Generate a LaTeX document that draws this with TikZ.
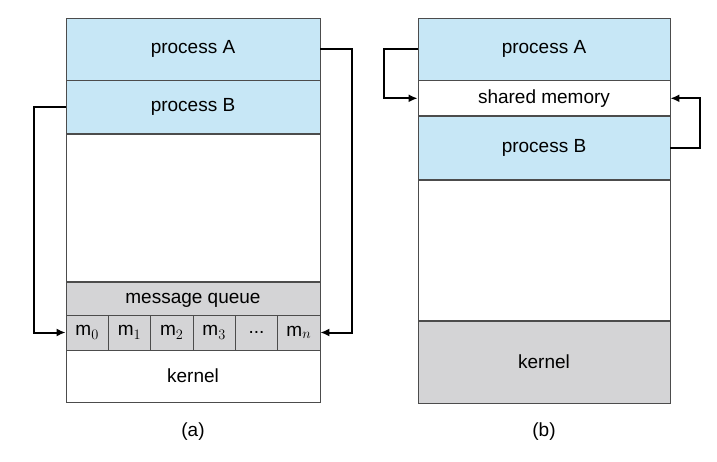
\documentclass[tikz,border=0pt]{standalone}
\usepackage{fontspec}
\setmainfont{Liberation Sans}
\usetikzlibrary{arrows.meta,positioning}
\definecolor{procblue}{RGB}{199,231,246}
\definecolor{kgray}{RGB}{212,212,214}
\tikzset{
  blk/.style={draw=black!70, line width=0.8pt, minimum width=254pt, inner sep=0pt, font=\fontsize{19}{22}\selectfont},
  link/.style={line width=2pt, -{Latex[length=9pt,width=8pt]}}
}
\begin{document}
\begin{tikzpicture}[x=1pt,y=-1pt]
	\useasboundingbox (0,0) rectangle (717,462);

		% (a) message passing
		\node[blk, fill=procblue, minimum height=62pt] (pa) at (193,49) {process A};
		\node[blk, fill=procblue, minimum height=53pt, below=0pt of pa] (pb) {process B};
		\node[blk, minimum height=147pt, below=0pt of pb] (free) {};
		\node[blk, fill=kgray, minimum height=35pt, below=0pt of free] (mq) {message queue};
		\node[blk, minimum height=52pt] (ka) at (193,376) {kernel};
		\foreach \t [count=\i] in {m$_0$,m$_1$,m$_2$,m$_3$,{\raisebox{0pt}{...}},m$_n$}
			\node[blk, fill=kgray, minimum width=42.33pt, minimum height=35pt] (m\i) at ({66+42.33*\i-21.17},332.5) {\t};
		\node at (193,432) {\fontsize{19}{22}\selectfont (a)};

		\draw[link] (pb.west) -- ++(-32,0) |- (m1.west);
		\draw[link] (pa.east) -- ++(32,0) |- (m6.east);

		% (b) shared memory
		\node[blk, fill=procblue, minimum height=62pt, minimum width=252pt] (qa) at (544,49) {process A};
		\node[blk, minimum height=35pt, minimum width=252pt, below=0pt of qa] (shm) {shared memory};
		\node[blk, fill=procblue, minimum height=63pt, minimum width=252pt, below=0pt of shm] (qb) {process B};
		\node[blk, minimum height=140pt, minimum width=252pt, below=0pt of qb] (freeb) {};
		\node[blk, fill=kgray, minimum height=82pt, minimum width=252pt, below=0pt of freeb] (kb) {kernel};
		\node at (544,432) {\fontsize{19}{22}\selectfont (b)};

		\draw[link] (qa.west) -- ++(-34,0) |- (shm.west);
		\draw[link] (qb.east) -- ++(30,0) |- (shm.east);

\end{tikzpicture}
\end{document}
